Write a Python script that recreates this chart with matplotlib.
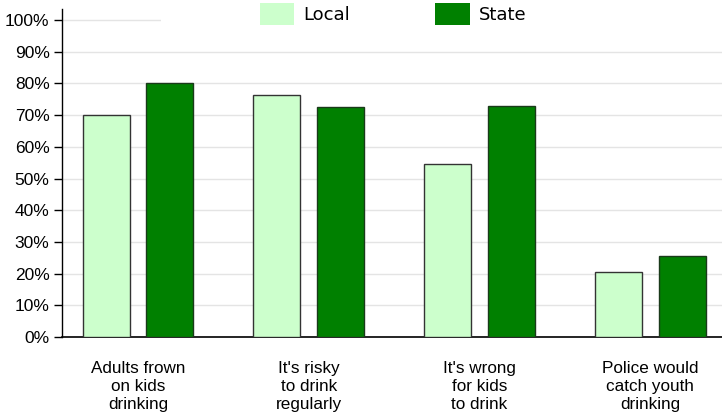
import matplotlib.pyplot as plt
import matplotlib.transforms as mtransforms
from matplotlib.patches import Patch, Rectangle
from matplotlib.ticker import FuncFormatter
import numpy as np

categories = ["Adults frown\non kids\ndrinking",
              "It's risky\nto drink\nregularly",
              "It's wrong\nfor kids\nto drink",
              "Police would\ncatch youth\ndrinking"]
local_vals = [0.70, 0.765, 0.545, 0.205]
state_vals = [0.80, 0.725, 0.73, 0.255]
series_names = ["Local", "State"]

local_color = "#ccffcc"
state_color = "#008000"

fig = plt.figure(figsize=(7.22, 4.19), dpi=100)
ax = fig.add_axes([62 / 722, 82 / 419, 660 / 722, 328 / 419])

x = np.arange(len(categories))
w = 0.275
off = 0.186
ax.bar(x - off, local_vals, w, color=local_color, edgecolor="#333333", linewidth=1, zorder=3)
ax.bar(x + off, state_vals, w, color=state_color, edgecolor="#1a3a1a", linewidth=1, zorder=3)

ax.set_xlim(-0.444, 3.42)
ax.set_ylim(0, 1.035)
ax.set_yticks(np.arange(0, 1.01, 0.1))
ax.yaxis.set_major_formatter(FuncFormatter(lambda v, p: f"{v * 100:.0f}%"))
ax.set_xticks(x)
ax.set_xticklabels(categories, fontfamily="Liberation Sans", fontsize=12.3, linespacing=1.27)
ax.tick_params(axis="x", length=0, pad=17)
ax.tick_params(axis="y", length=6, width=1, pad=3, labelsize=12.5)
for lab in ax.get_yticklabels():
    lab.set_fontfamily("Liberation Sans")

ax.grid(axis="y", color="#e4e4e4", linewidth=1, zorder=0)
ax.set_axisbelow(True)
for s in ["top", "right"]:
    ax.spines[s].set_visible(False)
ax.spines["left"].set_linewidth(1)
ax.spines["bottom"].set_linewidth(1.2)

# white band behind the legend hides the top gridline
trans = mtransforms.blended_transform_factory(ax.transAxes, ax.transData)
ax.add_patch(Rectangle((0.15, 0.985), 0.85, 0.06, transform=trans,
                       facecolor="white", edgecolor="none", zorder=1))

handles = [Patch(facecolor=local_color, edgecolor="none"),
           Patch(facecolor=state_color, edgecolor="none")]
fig.legend(handles, series_names, loc="upper left", bbox_to_anchor=(257 / 722, 1.0),
           ncol=2, frameon=False, fontsize=13, handlelength=1.9, handleheight=1.5,
           handletextpad=0.5, columnspacing=4.73, borderaxespad=0.0, borderpad=0.15)

fig.savefig("out.png", dpi=100)
